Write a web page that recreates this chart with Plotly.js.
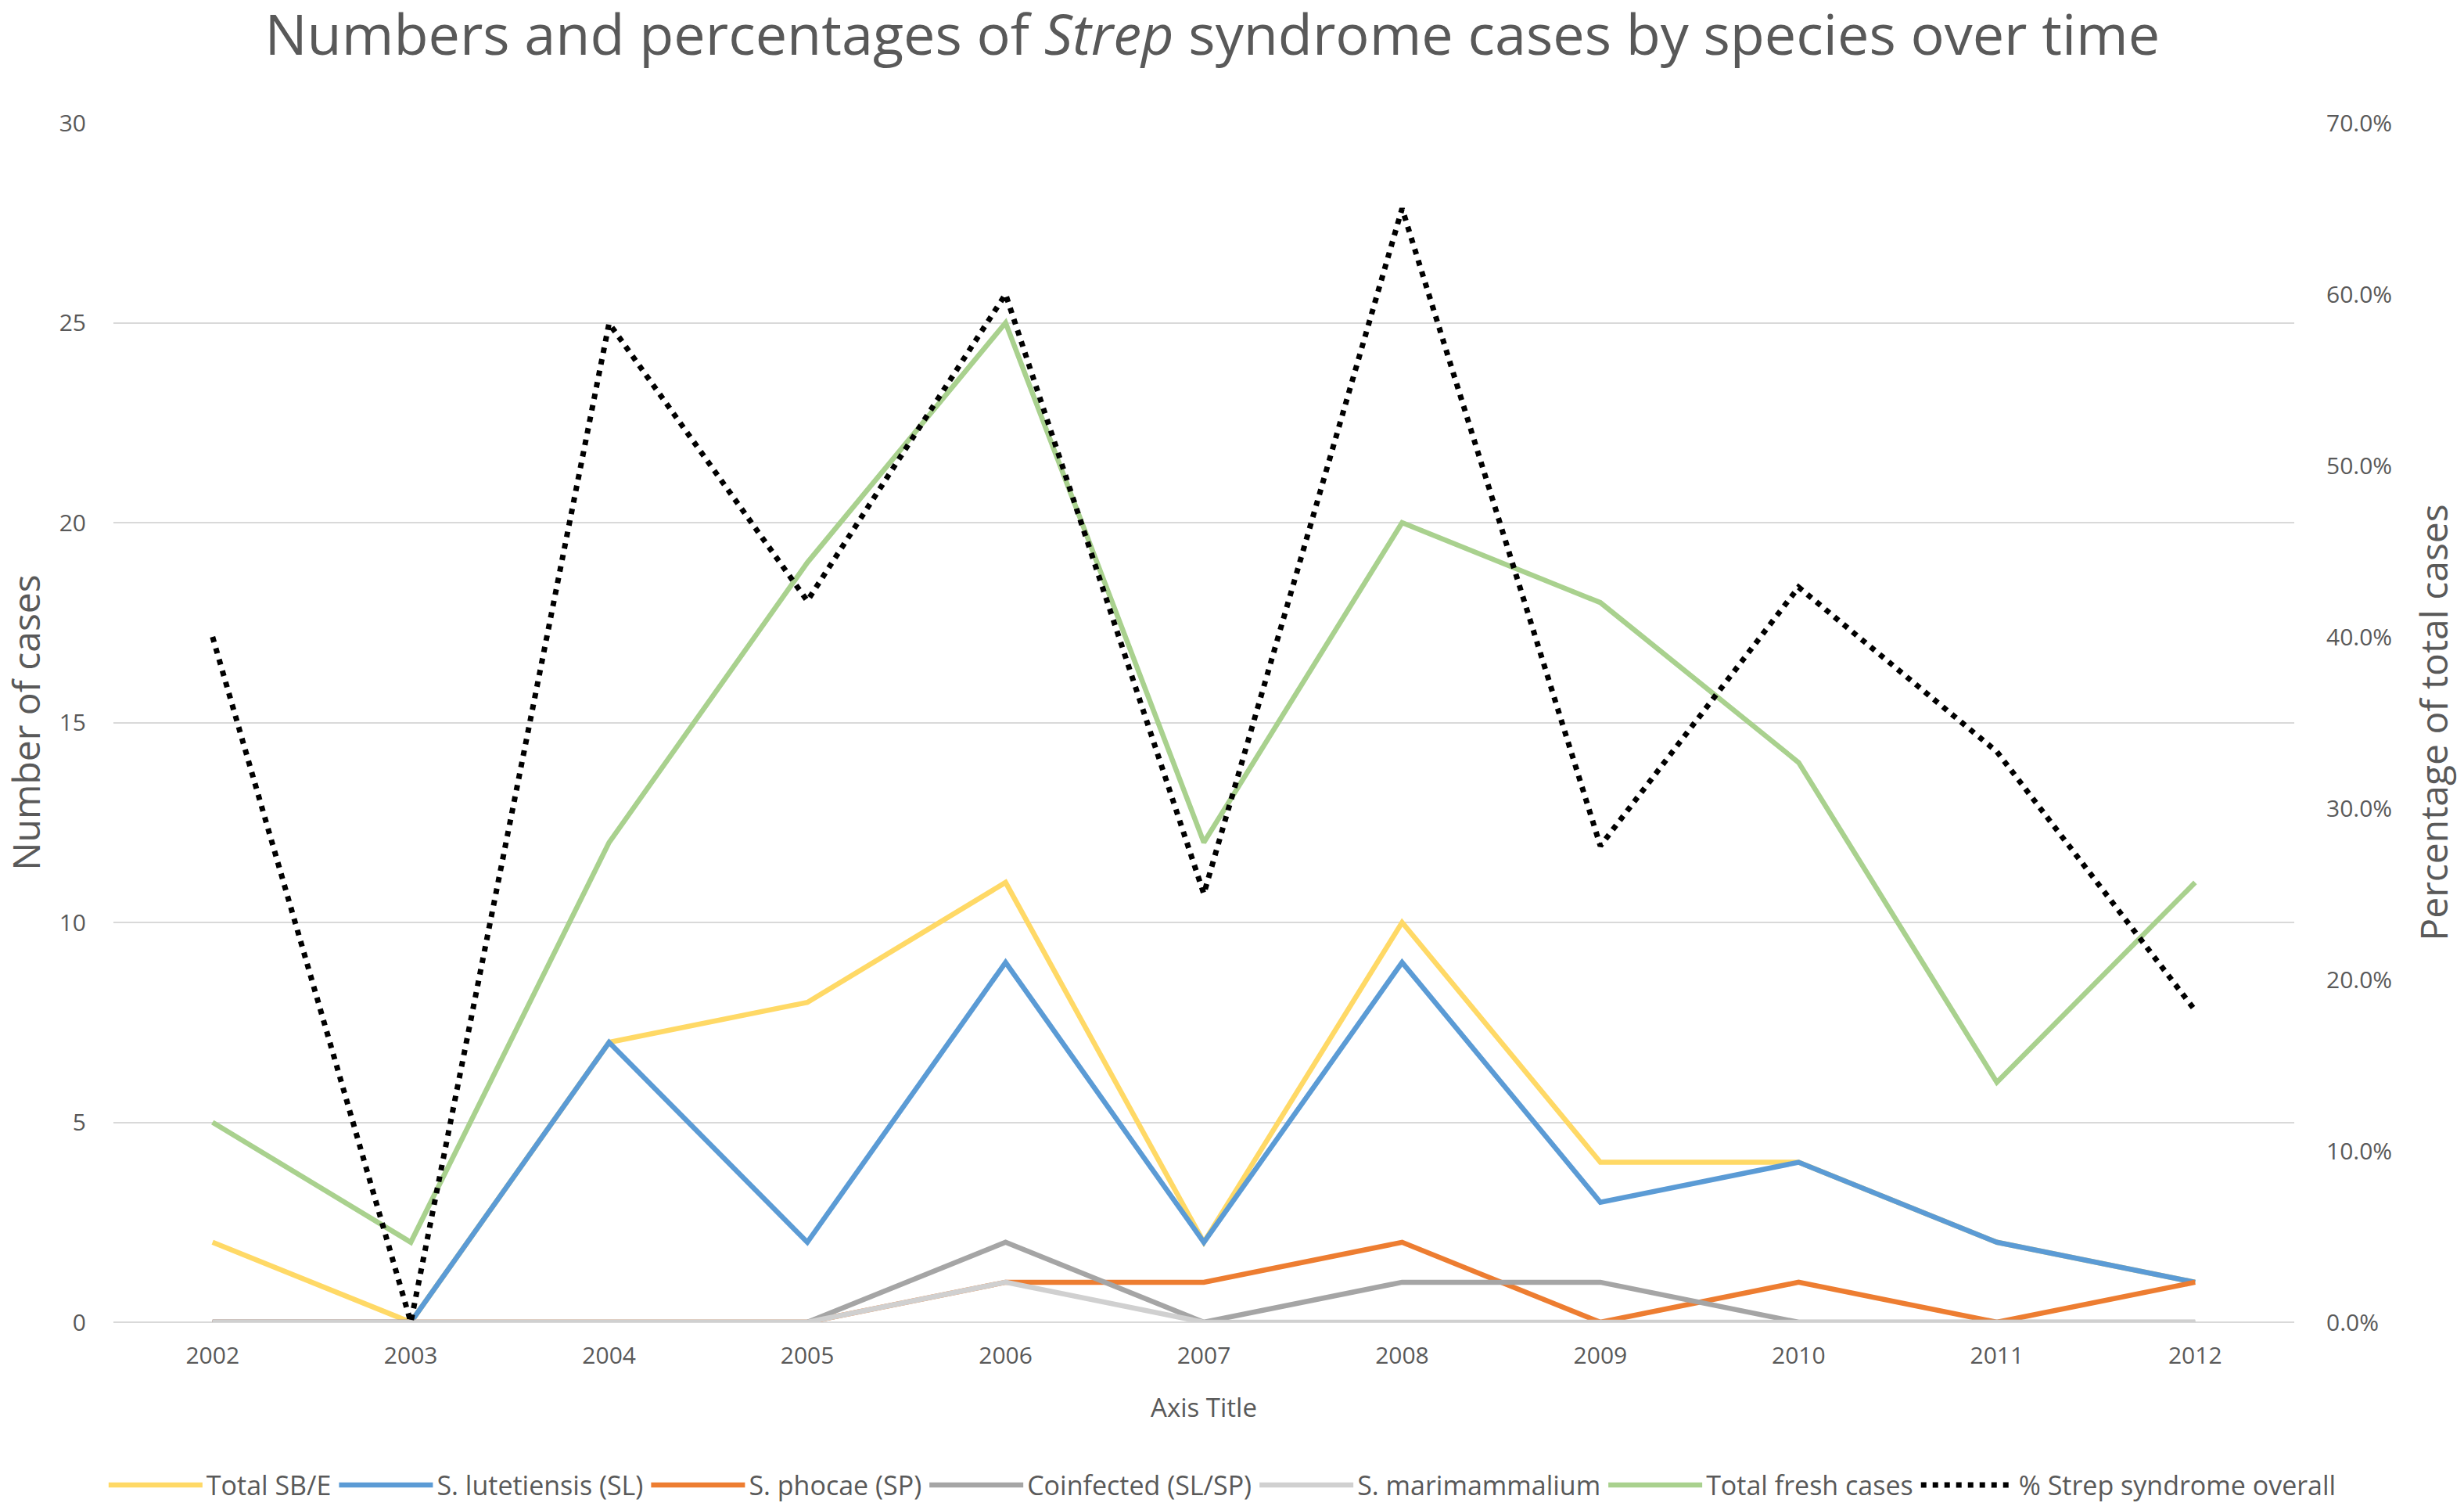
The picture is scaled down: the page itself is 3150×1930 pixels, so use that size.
<!DOCTYPE html>
<html>
<head>
<meta charset="utf-8">
<script src="https://cdn.plot.ly/plotly-3.0.1.min.js"></script>
<style>
  html, body { margin: 0; padding: 0; background: #fff; }
  #chart { width: 3150px; height: 1930px; }
</style>
</head>
<body>
<div id="chart"></div>
<script>
// Data
const years = ['2002', '2003', '2004', '2005', '2006', '2007', '2008', '2009', '2010', '2011', '2012'];
const totalSBE = [2, 0, 7, 8, 11, 2, 10, 4, 4, 2, 1];
const lutetiensis = [0, 0, 7, 2, 9, 2, 9, 3, 4, 2, 1];
const phocae = [0, 0, 0, 0, 1, 1, 2, 0, 1, 0, 1];
const coinfected = [0, 0, 0, 0, 2, 0, 1, 1, 0, 0, 0];
const marimammalium = [0, 0, 0, 0, 1, 0, 0, 0, 0, 0, 0];
const totalFresh = [5, 2, 12, 19, 25, 12, 20, 18, 14, 6, 11];
const pctStrep = [0.40, 0, 0.583, 0.421, 0.60, 0.25, 0.65, 0.278, 0.429, 0.333, 0.182];

const FONT = '"Open Sans", "Noto Sans", sans-serif';
const TEXT = '#595959';

function lineTrace(y, name, color, opts = {}) {
  return {
    type: 'scatter',
    mode: 'lines',
    name: name,
    x: years,
    y: y,
    yaxis: opts.yaxis || 'y',
    line: { color: color, width: opts.width || 6.5, dash: opts.dash || 'solid' },
    hoverinfo: 'x+y+name',
  };
}

const traces = [
  lineTrace(totalSBE, 'Total SB/E', '#FFD966'),
  lineTrace(lutetiensis, 'S. lutetiensis (SL)', '#5B9BD5'),
  lineTrace(phocae, 'S. phocae (SP)', '#ED7D31'),
  lineTrace(coinfected, 'Coinfected (SL/SP)', '#A5A5A5'),
  lineTrace(marimammalium, 'S. marimammalium', '#D0D0D0'),
  lineTrace(totalFresh, 'Total fresh cases', '#A9D18E'),
  lineTrace(pctStrep, '% Strep syndrome overall', '#000000', { yaxis: 'y2', dash: '7px,8px', width: 7 }),
];

const layout = {
  width: 3150,
  height: 1930,
  paper_bgcolor: '#fff',
  plot_bgcolor: '#fff',
  font: { family: FONT, color: TEXT, size: 30 },
  margin: { l: 145, r: 217, t: 157, b: 240, autoexpand: false },
  title: {
    text: 'Numbers and percentages of <i>Strep</i> syndrome cases by species over time',
    font: { family: FONT, size: 72, color: TEXT },
    x: 0.492,
    xanchor: 'center',
    y: 0.99,
    yanchor: 'top',
  },
  xaxis: {
    type: 'category',
    range: [-0.5, 10.5],
    showgrid: false,
    zeroline: false,
    showline: false,
    ticks: '',
    ticklabelstandoff: 22,
    tickfont: { size: 30, color: TEXT },
    title: { text: 'Axis Title', font: { size: 33, color: TEXT }, standoff: 36 },
  },
  yaxis: {
    range: [0, 30],
    dtick: 5,
    showgrid: true,
    gridcolor: '#D9D9D9',
    gridwidth: 2,
    zeroline: true,
    zerolinecolor: '#D9D9D9',
    zerolinewidth: 2,
    showline: false,
    ticks: '',
    ticklabelstandoff: 34,
    tickfont: { size: 30, color: TEXT },
    title: { text: 'Number of cases', font: { size: 48, color: TEXT }, standoff: 10 },
  },
  yaxis2: {
    overlaying: 'y',
    side: 'right',
    range: [0, 0.7],
    dtick: 0.1,
    tickformat: '.1%',
    showgrid: false,
    zeroline: false,
    showline: false,
    ticks: '',
    ticklabelstandoff: 40,
    tickfont: { size: 30, color: TEXT },
    title: { text: 'Percentage of total cases', font: { size: 48, color: TEXT }, standoff: 38 },
  },
  legend: {
    orientation: 'h',
    x: -0.004,
    xanchor: 'left',
    y: -0.136,
    yanchor: 'middle',
    font: { size: 34, color: TEXT },
    traceorder: 'normal',
    itemwidth: 120,
  },
  showlegend: true,
};

Plotly.newPlot('chart', traces, layout, { displayModeBar: false });
</script>
</body>
</html>
